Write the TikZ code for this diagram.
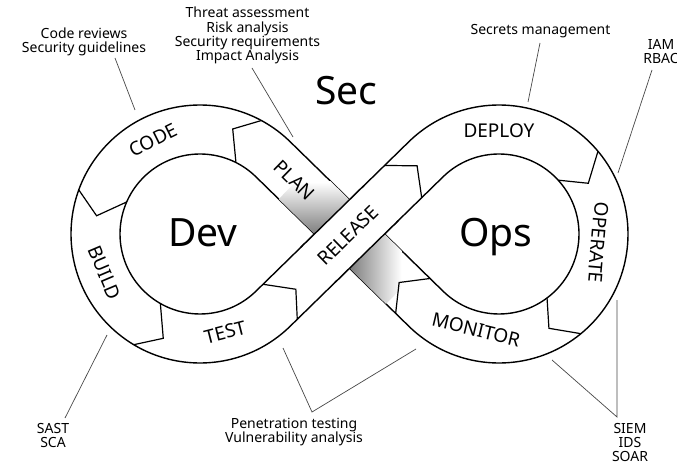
\documentclass[tikz,border=0pt]{standalone}
\usepackage{fontspec}
\setmainfont{Noto Sans}
\usetikzlibrary{calc}
\newcommand\stacklines[2][14]{\vtop{\baselineskip=#1pt\lineskiplimit=-20pt\lineskip=0pt\halign{\hfil##\hfil\cr#2\crcr}}}
\begin{document}
\begin{tikzpicture}[x=1pt,y=1pt,
  edge/.style={line width=1.4pt, line join=round},
  sepline/.style={line width=1.2pt, line join=miter},
  leader/.style={line width=0.7pt, black!72},
  stage/.style={font=\fontsize{19}{19}\selectfont, inner sep=0pt},
  big/.style={font=\fontsize{39}{39}\selectfont, inner sep=0pt, anchor=base},
  note/.style={font=\fontsize{14}{14}\selectfont, inner sep=0pt, anchor=base},
  shadedark/.style={black!68}]
\useasboundingbox (0,0) rectangle (677,464);
\fill[white] (0,0) rectangle (677,464);
\coordinate (L) at (200,230);
\coordinate (R) at (499,230);
\coordinate (M) at (349.5,230);

% outline A: outer left loop -> inner right loop
\draw[edge] ($(L)+(45.65:129)$) arc[start angle=45.65, end angle=314.35, radius=129]
  -- ($(R)+(134.35:80)$) arc[start angle=134.35, end angle=-134.35, radius=80]
  -- cycle;
% outline B: inner left loop -> outer right loop
\draw[edge] ($(L)+(45.65:80)$) arc[start angle=45.65, end angle=314.35, radius=80]
  -- ($(R)+(134.35:129)$) arc[start angle=134.35, end angle=-134.35, radius=129]
  -- cycle;

% shading on PLAN band, upper part
\begin{scope}
  \clip ($(M)+(-44.35:-75)+(45.65:24.5)$) -- ($(M)+(-44.35:-18)+(45.65:24.5)$)
     -- ($(M)+(-44.35:-18)+(45.65:-24.5)$) -- ($(M)+(-44.35:-75)+(45.65:-24.5)$) -- cycle;
  \shade[top color=white, bottom color=black!68] ($(M)+(-75,-18)$) rectangle ($(M)+(10,52)$);
\end{scope}
% shading on PLAN band, lower part
\begin{scope}
  \clip ($(M)+(-44.35:18)+(45.65:24.5)$) -- ($(M)+(-44.35:75)+(45.65:24.5)$)
     -- ($(M)+(-44.35:75)+(45.65:-24.5)$) -- ($(M)+(-44.35:18)+(45.65:-24.5)$) -- cycle;
  \shade[left color=black!68, right color=white] ($(M)+(-17.5,-75)$) rectangle ($(M)+(52,8)$);
\end{scope}

% RELEASE band passes over PLAN band
\fill[white] ($(M)+(44.35:-42)+(134.35:24.5)$) -- ($(M)+(44.35:42)+(134.35:24.5)$)
   -- ($(M)+(44.35:42)+(134.35:-24.5)$) -- ($(M)+(44.35:-42)+(134.35:-24.5)$) -- cycle;
\draw[edge] ($(M)+(44.35:-44)+(134.35:24.5)$) -- ($(M)+(44.35:44)+(134.35:24.5)$);
\draw[edge] ($(M)+(44.35:-44)+(134.35:-24.5)$) -- ($(M)+(44.35:44)+(134.35:-24.5)$);

% stage separators
\draw[sepline] ($(L)+(61.6:129)$) -- ($(L)+(72.7:110)$) -- ($(L)+(63.3:80)$);
\draw[sepline] ($(L)+(160:129)$) -- ($(L)+(170:105)$) -- ($(L)+(156.4:80)$);
\draw[sepline] ($(L)+(239.1:129)$) -- ($(L)+(250.6:110.6)$) -- ($(L)+(240.3:80)$);
\draw[sepline] ($(M)+(44.35:-97)+(134.35:24.5)$) -- ($(M)+(44.35:-77)+(134.35:-2)$) -- ($(M)+(44.35:-97)+(134.35:-24.5)$);
\draw[sepline] ($(M)+(44.35:73)+(134.35:24.5)$) -- ($(M)+(44.35:96)+(134.35:1.5)$) -- ($(M)+(44.35:77)+(134.35:-24.5)$);
\draw[sepline] ($(R)+(39.9:129)$) -- ($(R)+(29.6:102.7)$) -- ($(R)+(42.3:80)$);
\draw[sepline] ($(R)+(-50.6:129)$) -- ($(R)+(-62.1:106.7)$) -- ($(R)+(-53.1:80)$);
\draw[sepline] ($(M)+(-44.35:88.5)+(45.65:-24.5)$) -- ($(M)+(-44.35:69.4)$) -- ($(M)+(-44.35:88.7)+(45.65:24.5)$);

% stage labels
\node[stage, rotate=26.4] (code) at ($(L)+(116.4:105)$) {CODE};
\node[stage, rotate=-67] (build) at ($(L)+(201.9:103)$) {BUILD};
\node[stage, rotate=14.3] (test) at ($(L)+(-75.7:101.4)$) {TEST};
\node[stage, rotate=-44.35] (plan) at ($(M)+(-44.35:-76.7)$) {PLAN};
\node[stage, rotate=44.35] (release) at ($(M)+(44.35:-2)$) {RELEASE};
\node[stage] (deploy) at ($(R)+(90:103)$) {DEPLOY};
\node[stage, rotate=-94.9] (operate) at ($(R)+(-4.9:99.7)$) {OPERATE};
\node[stage, rotate=-13.5] (monitor) at ($(R)+(-103.5:98.4)$) {MONITOR};

% big words
\node[big] (sec) at (346.5,359) {Sec};
\node[big] (dev) at (203,218) {Dev};
\node[big] (ops) at (496,218) {Ops};

% annotations
\node[note] (codenote) at (84,425) {\stacklines[13.5]{Code reviews\cr Security guidelines}};
\node[note] (plannote) at (247.5,446) {\stacklines[14.2]{Threat assessment\cr Risk analysis\cr Security requirements\cr Impact Analysis}};
\node[note] (secretsnote) at (540.5,429) {Secrets management};
\node[note] (iamnote) at (661,414) {\stacklines{IAM\cr RBAC}};
\node[note] (sastnote) at (53,31) {\stacklines{SAST\cr SCA}};
\node[note] (pennote) at (294,35.7) {\stacklines[14.4]{Penetration testing\cr Vulnerability analysis}};
\node[note] (siemnote) at (630,30.7) {\stacklines{SIEM\cr IDS\cr SOAR}};

% leader lines
\coordinate (c1a) at (115,406); \coordinate (c1b) at (135,354);
\coordinate (c2a) at (252,396); \coordinate (c2b) at (293,327);
\coordinate (c3a) at (540,421); \coordinate (c3b) at (528,362);
\coordinate (c4a) at (652,394); \coordinate (c4b) at (618,291);
\coordinate (c5a) at (107,129); \coordinate (c5b) at (65,46);
\coordinate (c6a) at (283,116); \coordinate (c6b) at (312,52); \coordinate (c6c) at (416,115);
\coordinate (c7a) at (552,104); \coordinate (c7b) at (617,47); \coordinate (c7c) at (617,164);
\draw[leader] (c1a) -- (c1b);
\draw[leader] (c2a) -- (c2b);
\draw[leader] (c3a) -- (c3b);
\draw[leader] (c4a) -- (c4b);
\draw[leader] (c5a) -- (c5b);
\draw[leader] (c6a) -- (c6b) -- (c6c);
\draw[leader] (c7a) -- (c7b) -- (c7c);
\end{tikzpicture}
\end{document}
